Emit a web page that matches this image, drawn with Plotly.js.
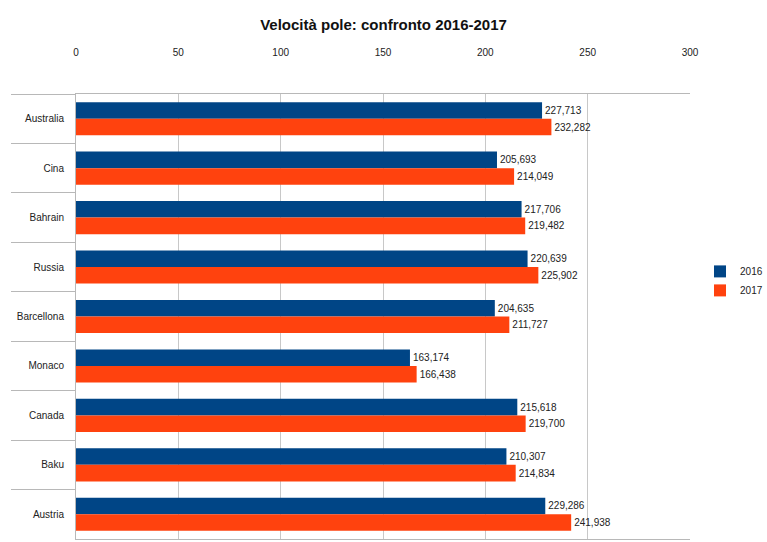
<!DOCTYPE html>
<html>
<head>
<meta charset="utf-8">
<script src="https://cdn.plot.ly/plotly-3.0.1.min.js"></script>
<style>html,body{margin:0;padding:0;background:#fff}#chart{width:767px;height:542px}</style>
</head>
<body>
<div id="chart"></div>
<script>
const categories = ["Australia", "Cina", "Bahrain", "Russia", "Barcellona", "Monaco", "Canada", "Baku", "Austria"];
const values2016 = [227.713, 205.693, 217.706, 220.639, 204.635, 163.174, 215.618, 210.307, 229.286];
const values2017 = [232.282, 214.049, 219.482, 225.902, 211.727, 166.438, 219.700, 214.834, 241.938];
const seriesNames = ["2016", "2017"];
const xTicks = [0, 50, 100, 150, 200, 250, 300];

function fmt(v) { return v.toFixed(3).replace('.', ','); }

const font = "Liberation Sans, Arial, sans-serif";
const traces = [
  {
    type: 'bar', orientation: 'h', name: seriesNames[0],
    y: categories, x: values2016,
    text: values2016.map(fmt), textposition: 'outside', cliponaxis: false,
    textfont: {family: font, size: 10, color: '#222'},
    marker: {color: '#004586', line: {width: 0}},
    hoverinfo: 'none'
  },
  {
    type: 'bar', orientation: 'h', name: seriesNames[1],
    y: categories, x: values2017,
    text: values2017.map(fmt), textposition: 'outside', cliponaxis: false,
    textfont: {family: font, size: 10, color: '#222'},
    marker: {color: '#ff420e', line: {width: 0}},
    hoverinfo: 'none'
  }
];

const layout = {
  width: 767, height: 542,
  margin: {l: 76, r: 77, t: 94, b: 3, pad: 0, autoexpand: false},
  paper_bgcolor: '#fff', plot_bgcolor: '#fff',
  font: {family: font, size: 10, color: '#222'},
  title: {text: '<b>Velocità pole: confronto 2016-2017</b>', font: {family: font, size: 15, color: '#111'},
          x: 0.5, xref: 'container', y: 0.955, yref: 'container', yanchor: 'middle'},
  barmode: 'group', bargap: 0.33, bargroupgap: 0.0,
  xaxis: {
    side: 'top', range: [0, 300], tickvals: xTicks, ticktext: xTicks.map(String),
    showgrid: true, gridcolor: '#c8c8c8', gridwidth: 1,
    showline: true, linecolor: '#b8b8b8', linewidth: 1, mirror: true,
    ticks: '', ticklabelstandoff: 33, zeroline: false,
    tickfont: {family: font, size: 10, color: '#222'}, fixedrange: true
  },
  yaxis: {
    type: 'category', autorange: 'reversed',
    categoryorder: 'array', categoryarray: categories,
    showline: true, linecolor: '#b8b8b8', linewidth: 1,
    ticks: 'outside', tickson: 'boundaries', ticklen: 64, tickcolor: '#b8b8b8', tickwidth: 1,
    ticklabelstandoff: 9,
    showgrid: false, zeroline: false,
    tickfont: {family: font, size: 10, color: '#222'}, fixedrange: true
  },
  legend: {
    x: 1.0163, xref: 'paper', y: 0.58, yanchor: 'middle', xanchor: 'left',
    font: {family: font, size: 10, color: '#222'},
    traceorder: 'normal', itemwidth: 30, tracegroupgap: 0, bgcolor: 'rgba(0,0,0,0)'
  },
  showlegend: true
};

Plotly.newPlot('chart', traces, layout, {displayModeBar: false, staticPlot: true});
</script>
</body>
</html>
